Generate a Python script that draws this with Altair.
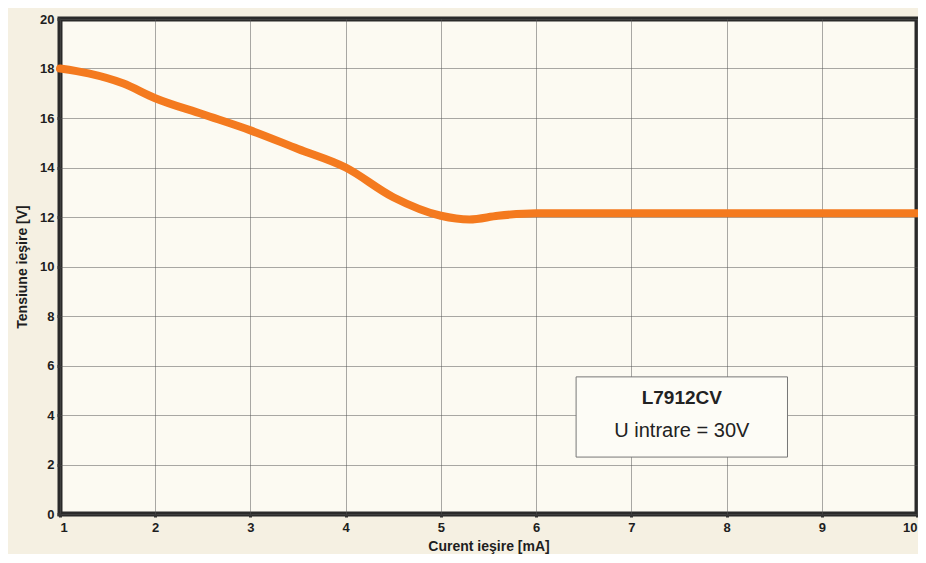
import altair as alt
import pandas as pd

# Curve
current_ma = [1, 1.3, 1.66, 2, 2.5, 3, 3.5, 4, 4.5, 5, 5.3, 5.6, 6, 7, 8, 9, 10]
voltage_v = [18.0, 17.8, 17.4, 16.8, 16.15, 15.5, 14.75, 14.0, 12.8, 12.05, 11.9, 12.05, 12.15, 12.15, 12.15, 12.15, 12.15]

x_ticks = [1, 2, 3, 4, 5, 6, 7, 8, 9, 10]
y_ticks = [0, 2, 4, 6, 8, 10, 12, 14, 16, 18, 20]

# Annotation box (data coordinates)
box_x = [6.42]
box_x2 = [8.64]
box_y = [2.30]
box_y2 = [5.54]
label_x = [7.53, 7.53]
label_y = [4.69, 3.35]
label_text = ["L7912CV", "U intrare = 30V"]
label_weight = ["bold", "normal"]

df = pd.DataFrame({"x": current_ma, "y": voltage_v})
box_df = pd.DataFrame({"x": box_x, "x2": box_x2, "y": box_y, "y2": box_y2})
lab_df = pd.DataFrame({"x": label_x, "y": label_y, "t": label_text, "w": label_weight})

xs = alt.Scale(domain=[1, 10], nice=False, zero=False)
ys = alt.Scale(domain=[0, 20], nice=False)

x_axis = alt.Axis(values=x_ticks, title="Curent ieşire [mA]", format="d",
                  labelFont="Liberation Sans", labelFontWeight="bold", labelFontSize=13,
                  labelColor="#1e1e1e", titleFont="Liberation Sans", titleFontWeight="bold",
                  titleFontSize=14, titleColor="#1e1e1e", titlePadding=5,
                  grid=True, gridColor="#555", gridDash=[1, 1], gridWidth=1,
                  domain=False, tickColor="#333", tickSize=3, tickWidth=3,
                  labelPadding=4)
y_axis = alt.Axis(values=y_ticks, title="Tensiune ieşire [V]", format="d",
                  labelFont="Liberation Sans", labelFontWeight="bold", labelFontSize=13,
                  labelColor="#1e1e1e", titleFont="Liberation Sans", titleFontWeight="bold",
                  titleFontSize=14, titleColor="#1e1e1e", titlePadding=10,
                  grid=True, gridColor="#555", gridDash=[1, 1], gridWidth=1,
                  domain=False, tickColor="#333", tickSize=3, tickWidth=3,
                  labelPadding=3)

line = alt.Chart(df).mark_line(color="#f47a1f", strokeWidth=8, interpolate="monotone",
                               strokeCap="round").encode(
    x=alt.X("x:Q", scale=xs, axis=x_axis),
    y=alt.Y("y:Q", scale=ys, axis=y_axis),
)

box = alt.Chart(box_df).mark_rect(fill="#fdfcf6", stroke="#777", strokeWidth=1).encode(
    x=alt.X("x:Q", scale=xs), x2="x2:Q",
    y=alt.Y("y:Q", scale=ys), y2="y2:Q",
)

lab_bold = alt.Chart(lab_df[lab_df.w == "bold"]).mark_text(
    font="Liberation Sans", fontSize=19, fontWeight="bold", color="#222").encode(
    x=alt.X("x:Q", scale=xs), y=alt.Y("y:Q", scale=ys), text="t:N")
lab_norm = alt.Chart(lab_df[lab_df.w == "normal"]).mark_text(
    font="Liberation Sans", fontSize=20, color="#222").encode(
    x=alt.X("x:Q", scale=xs), y=alt.Y("y:Q", scale=ys), text="t:N")

chart = alt.layer(line, box, lab_bold, lab_norm).properties(
    width=857, height=495,
    background="#f5f0e2",
    padding={"left": 52, "top": 11, "right": 1, "bottom": 40},
    autosize=alt.AutoSizeParams(type="none"),
).configure_view(
    fill="#fcfaf2", stroke="#2a2a2a", strokeWidth=5
)

chart.save("out.html", embed_options={"renderer": "svg", "actions": False})
